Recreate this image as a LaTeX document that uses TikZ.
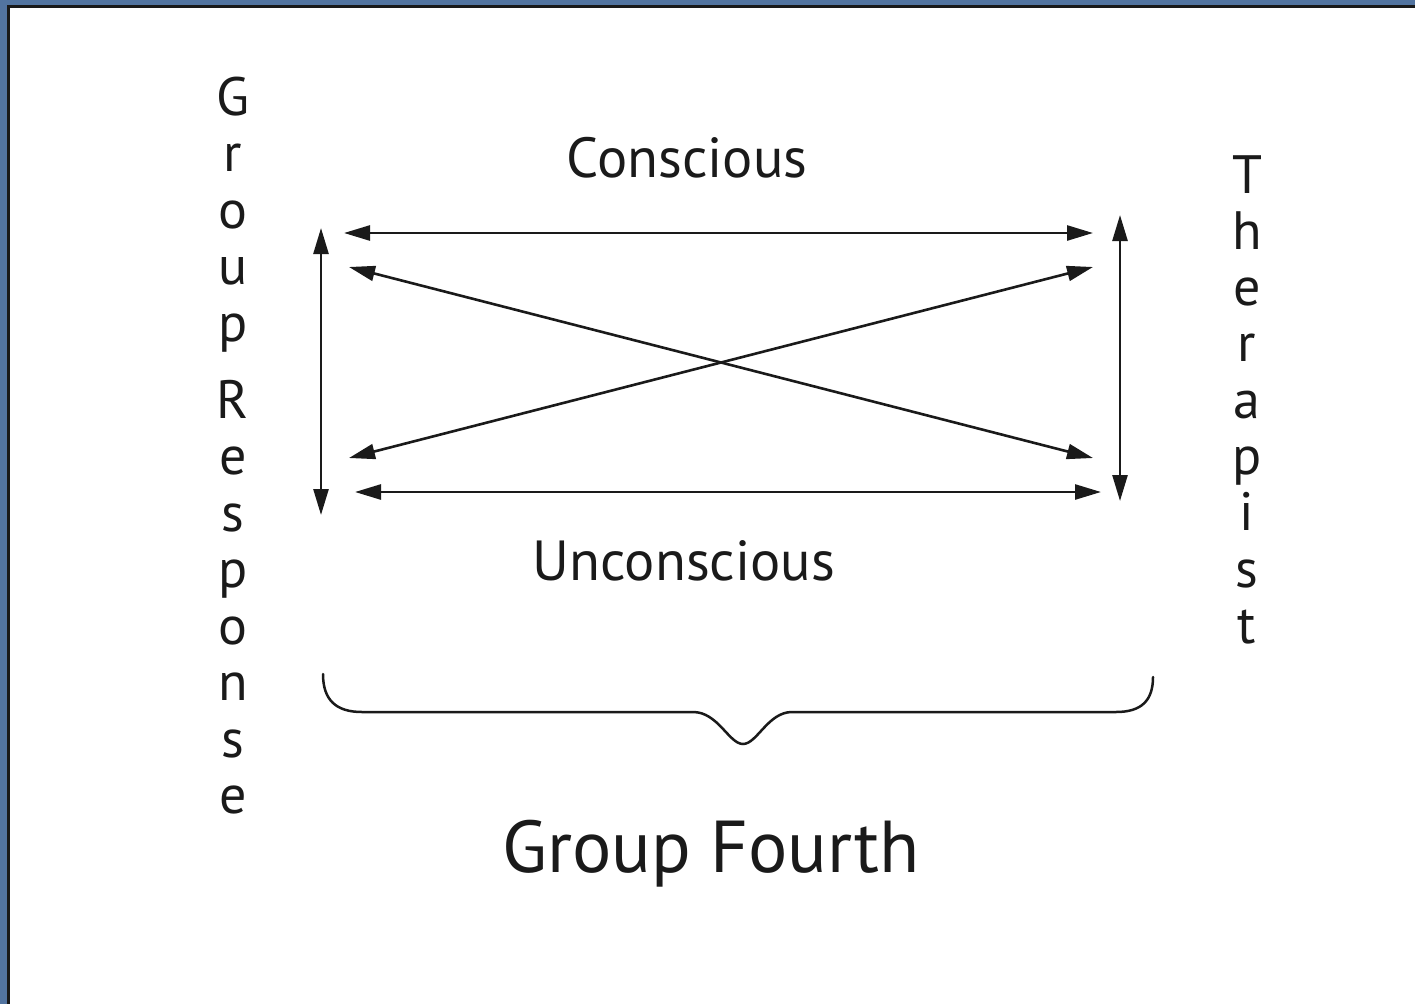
\documentclass[tikz,border=0pt]{standalone}
\usepackage{fontspec}
\setmainfont{PT Sans}
\usetikzlibrary{arrows.meta}
\definecolor{frameblue}{RGB}{82,116,160}
\definecolor{ink}{RGB}{26,26,26}
\begin{document}
\begin{tikzpicture}[x=1pt, y=-1pt,
    link/.style={ink, line width=2.6pt, {Triangle[length=26pt, width=15pt]}-{Triangle[length=26pt, width=15pt]}},
    letter/.style={ink, anchor=base, inner sep=0pt, font=\fontsize{54}{60}\selectfont},
    label/.style={ink, anchor=base, inner sep=0pt, font=\fontsize{56.5}{64}\selectfont},
    title/.style={ink, anchor=base, inner sep=0pt, font=\fontsize{73.5}{80}\selectfont}]
  \useasboundingbox (0,0) rectangle (1415,1004);
  % frame: blue margin, black rule, white sheet
  \fill[frameblue] (0,0) rectangle (1415,1004);
  \fill[black!90] (7,5) rectangle (1415,1004);
  \fill[white] (10,8) rectangle (1415,1004);

  % the two sides, written one letter under the other
  \foreach \c [count=\i] in {G,r,o,u,p}
    \node[letter] (gr\i) at (233, 115+56.6*\i-56.6) {\c};
  \foreach \c [count=\i] in {R,e,s,p,o,n,s,e}
    \node[letter] (rs\i) at (233, 418+56.5*\i-56.5) {\c};
  \foreach \c [count=\i] in {T,h,e,r,a,p,i,s,t}
    \node[letter] (th\i) at (1247, 193+56.3*\i-56.3) {\c};

  \node[label] (conscious)   at (687, 177) {Conscious};
  \node[label] (unconscious) at (684, 580) {Unconscious};
  \node[title] (fourth)      at (711, 872) {Group Fourth};

  % arrow ends
  \coordinate (ca)  at (344, 233);  \coordinate (cb)  at (1093, 233);
  \coordinate (d1a) at (349, 267);  \coordinate (d1b) at (1093, 458);
  \coordinate (d2a) at (349, 458);  \coordinate (d2b) at (1093, 267);
  \coordinate (ua)  at (355, 492);  \coordinate (ub)  at (1101, 492);
  \coordinate (la)  at (321, 228);  \coordinate (lb)  at (321, 515);
  \coordinate (ra)  at (1120, 215); \coordinate (rb)  at (1120, 501);

  \draw[link] (ca) -- (cb);
  \draw[link] (d1a) -- (d1b);
  \draw[link] (d2a) -- (d2b);
  \draw[link] (ua) -- (ub);
  \draw[link] (la) -- (lb);
  \draw[link] (ra) -- (rb);

  % brace over the title
  \draw[ink, line width=2.5pt, line cap=round]
    (323,674) .. controls (323,700) and (336,712) .. (362,712) -- (693,712)
    .. controls (718,712) and (729,744) .. (743,744)
    .. controls (757,744) and (768,712) .. (792,712) -- (1116,712)
    .. controls (1142,712) and (1153,700) .. (1153,677);
\end{tikzpicture}
\end{document}
